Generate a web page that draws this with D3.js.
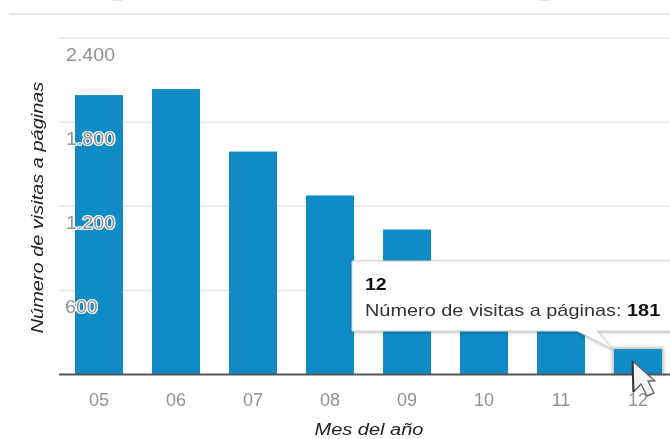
<!DOCTYPE html>
<html><head><meta charset="utf-8">
<script src="https://cdn.jsdelivr.net/npm/d3@7"></script>
<style>
html,body{margin:0;padding:0;background:#fff;overflow:hidden}
svg{display:block;filter:blur(0.55px)}
text{font-family:"Liberation Sans",Arial,sans-serif}
</style></head><body><div id="chart"></div>
<script>
const months = ["05","06","07","08","09","10","11","12"];
const visits = [1993,2036,1590,1277,1034,620,470,181];
const yTicks = [600,1200,1800,2400];
const yTickLabels = ["600","1.200","1.800","2.400"];
const yTitle = "Número de visitas a páginas";
const xTitle = "Mes del año";
const tooltipIndex = 7;

const W=670,H=439;
const svg=d3.select("#chart").append("svg").attr("width",W).attr("height",H);
const x=d3.scaleBand().domain(months).range([60.5,676.5]).paddingInner(0.377).paddingOuter(0.1885);
const y=d3.scaleLinear().domain([0,2400]).range([374.5,38]);

svg.append("line").attr("x1",9).attr("x2",W).attr("y1",14).attr("y2",14).attr("stroke","#dcdcdc").attr("stroke-width",1.6);
svg.append("rect").attr("x",112).attr("y",0).attr("width",10).attr("height",1).attr("fill","#e4e4f0");
svg.append("rect").attr("x",539).attr("y",0).attr("width",11).attr("height",1).attr("fill","#e4e4f0");

svg.append("g").selectAll("line").data(yTicks).join("line")
 .attr("x1",59).attr("x2",W).attr("y1",d=>y(d)).attr("y2",d=>y(d))
 .attr("stroke","#e6e6e6").attr("stroke-width",1.5);

const defs=svg.append("defs");
const bl=defs.append("filter").attr("id","soft").attr("x","-20%").attr("y","-30%").attr("width","140%").attr("height","160%");
bl.append("feGaussianBlur").attr("stdDeviation",1.5);

svg.append("rect").datum(months[tooltipIndex])
 .attr("x",d=>x(d)-2).attr("width",x.bandwidth()+4)
 .attr("y",y(visits[tooltipIndex])-2).attr("height",y(0)-y(visits[tooltipIndex])+2)
 .attr("fill","#c4c4c4").attr("filter","url(#soft)");

svg.append("g").selectAll("rect").data(months).join("rect")
 .attr("x",d=>x(d)).attr("width",x.bandwidth())
 .attr("y",(d,i)=>y(visits[i])).attr("height",(d,i)=>y(0)-y(visits[i]))
 .attr("fill","#0f8bc6");

svg.append("line").attr("x1",59).attr("x2",W).attr("y1",y(0)).attr("y2",y(0)).attr("stroke","#555").attr("stroke-width",1.8);

svg.append("g").selectAll("text").data(yTicks).join("text")
 .attr("transform",(d,i)=>`translate(${i===0?65:66},${y(d)+22.5}) scale(1.09,1)`)
 .attr("font-size",18).attr("fill","#929292")
 .attr("stroke","#fff").attr("stroke-width",2.2).attr("stroke-linejoin","round").attr("paint-order","stroke")
 .text((d,i)=>yTickLabels[i]);

svg.append("g").selectAll("text").data(months).join("text")
 .attr("x",d=>x(d)+x.bandwidth()/2).attr("y",405.5).attr("text-anchor","middle")
 .attr("font-size",18).attr("fill","#929292").text(d=>d);

svg.append("text").attr("transform","translate(369,435) scale(1.25,1)").attr("text-anchor","middle")
 .attr("font-size",16).attr("font-style","italic").attr("fill","#222").text(xTitle);
svg.append("text").attr("transform","translate(43,207.5) rotate(-90) scale(1.21,1)").attr("text-anchor","middle")
 .attr("font-size",16.5).attr("font-style","italic").attr("fill","#222").text(yTitle);

const f=defs.append("filter").attr("id","sh").attr("x","-10%").attr("y","-20%").attr("width","120%").attr("height","150%");
f.append("feDropShadow").attr("dx",0).attr("dy",1).attr("stdDeviation",1.5).attr("flood-color","#000").attr("flood-opacity",0.3);
const tipX=x(months[tooltipIndex])-1, tipY=y(visits[tooltipIndex]);
svg.append("path").attr("d",`M352,261H${W+10}V331H597L${tipX},${tipY}L577,331H352Z`)
 .attr("fill","#fff").attr("stroke","#cfcfcf").attr("stroke-width",1).attr("filter","url(#sh)");
svg.append("text").attr("transform","translate(365,289.5) scale(1.15,1)").attr("font-size",17).attr("font-weight","bold").attr("fill","#111").text(months[tooltipIndex]);
const t=svg.append("text").attr("transform","translate(365,315.5) scale(1.17,1)").attr("font-size",17).attr("fill","#333");
t.append("tspan").text(yTitle+": ");
t.append("tspan").attr("font-weight","bold").attr("fill","#111").text(visits[tooltipIndex]);

svg.append("path").attr("d","M632.5,361L633.5,392L641,384L647,396L654,393L648,381L655,381Z")
 .attr("fill","#f4f4f4").attr("stroke","#666").attr("stroke-width",1.4).attr("stroke-linejoin","round");
svg.append("path").attr("d","M632.5,361L633.5,392").attr("fill","none").attr("stroke","#333").attr("stroke-width",2);
</script></body></html>
